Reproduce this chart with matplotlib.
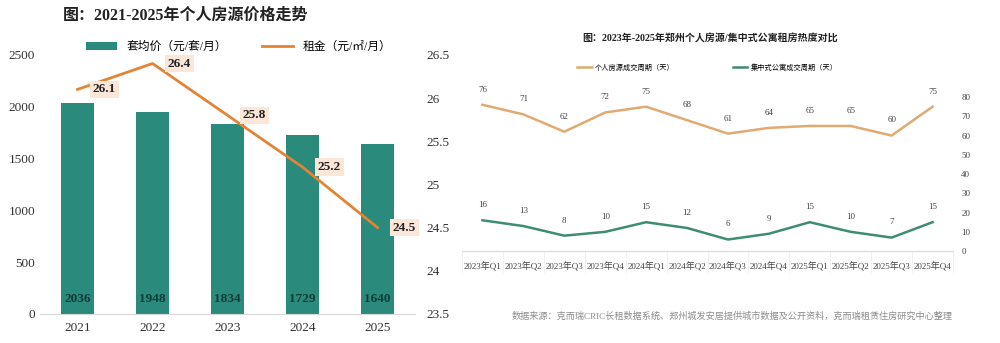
import matplotlib.pyplot as plt
import numpy as np

plt.rcParams["font.family"] = ["Liberation Serif", "Noto Sans CJK SC", "DejaVu Sans"]
plt.rcParams["axes.unicode_minus"] = False

# left chart data
years = ["2021", "2022", "2023", "2024", "2025"]
avg_price = [2036, 1948, 1834, 1729, 1640]
rent = [26.1, 26.4, 25.8, 25.2, 24.5]

# right chart data
quarters = ["2023年Q1", "2023年Q2", "2023年Q3", "2023年Q4",
            "2024年Q1", "2024年Q2", "2024年Q3", "2024年Q4",
            "2025年Q1", "2025年Q2", "2025年Q3", "2025年Q4"]
personal_days = [76, 71, 62, 72, 75, 68, 61, 64, 65, 65, 60, 75]
apartment_days = [16, 13, 8, 10, 15, 12, 6, 9, 15, 10, 7, 15]

TEAL = "#2a8a7c"
ORANGE = "#e38434"
TAN = "#e0aa72"
GREEN = "#3d8c74"

fig = plt.figure(figsize=(10, 3.43), dpi=100)

# ---- left: bars + rent line
ax = fig.add_axes([0.04, 0.085, 0.375, 0.755])
x = np.arange(len(years))
ax.bar(x, avg_price, width=0.43, color=TEAL, zorder=2, label="套均价（元/套/月）")
ax.set_xlim(-0.5, len(years) - 0.5)
ax.set_ylim(0, 2500)
ax.set_yticks(range(0, 2501, 500))
ax.set_xticks(x, years)
for s in ["top", "right", "left"]:
    ax.spines[s].set_visible(False)
ax.spines["bottom"].set_color("#d9d9d9")
ax.tick_params(length=0, labelsize=9.5, colors="#333333")
ax.tick_params(axis="x", pad=6)
for xi, v in zip(x, avg_price):
    ax.text(xi, 140, f"{v}", ha="center", va="center", fontsize=9.5,
            fontweight="bold", color="#123c36", zorder=3)

ax2 = ax.twinx()
ax2.plot(x, rent, color=ORANGE, linewidth=2, zorder=3, label="租金（元/㎡/月）")
ax2.set_ylim(23.5, 26.5)
ax2.set_yticks([23.5, 24, 24.5, 25, 25.5, 26, 26.5])
ax2.set_yticklabels(["23.5", "24", "24.5", "25", "25.5", "26", "26.5"])
for s in ["top", "right", "left", "bottom"]:
    ax2.spines[s].set_visible(False)
ax2.tick_params(length=0, labelsize=9.5, colors="#333333", pad=8)
for xi, v in zip(x, rent):
    ax2.annotate(f"{v}", (xi, v), xytext=(11, 0), textcoords="offset points",
                 ha="left", va="center", fontsize=9.5, fontweight="bold",
                 color="#222222",
                 bbox=dict(boxstyle="square,pad=0.2", fc="#fbe6d8", ec="none"))

h1, l1 = ax.get_legend_handles_labels()
h2, l2 = ax2.get_legend_handles_labels()
ax2.legend(h1 + h2, l1 + l2, loc="center", bbox_to_anchor=(0.53, 1.03),
           ncol=2, frameon=False, fontsize=8.5, handlelength=2.6,
           handleheight=0.6, columnspacing=3)

fig.text(0.063, 0.955, "图：2021-2025年个人房源价格走势", fontsize=11.5,
         fontweight="bold", ha="left", va="center", color="#222222")

# ---- right: turnover cycle lines
rx = fig.add_axes([0.462, 0.268, 0.491, 0.449])
q = np.arange(len(quarters))
rx.plot(q, personal_days, color=TAN, linewidth=1.8, label="个人房源成交周期（天）")
rx.plot(q, apartment_days, color=GREEN, linewidth=1.8, label="集中式公寓成交周期（天）")
rx.set_xlim(-0.5, len(quarters) - 0.5)
rx.set_ylim(0, 80)
rx.set_yticks(range(0, 81, 10))
rx.yaxis.tick_right()
rx.set_xticks(q, quarters)
rx.set_xticks(np.arange(-0.5, len(quarters), 1), minor=True)
for s in ["top", "right", "left"]:
    rx.spines[s].set_visible(False)
rx.spines["bottom"].set_color("#d9d9d9")
rx.tick_params(axis="both", which="major", length=0, labelsize=6.5, colors="#444444")
rx.tick_params(axis="y", pad=6)
rx.tick_params(axis="x", which="major", pad=8)
rx.tick_params(axis="x", which="minor", length=16, color="#eeeeee", direction="out")
for xi, v in zip(q, personal_days):
    rx.annotate(f"{v}", (xi, v), xytext=(0, 8), textcoords="offset points",
                ha="center", va="bottom", fontsize=6.5, color="#444444")
for xi, v in zip(q, apartment_days):
    rx.annotate(f"{v}", (xi, v), xytext=(0, 8), textcoords="offset points",
                ha="center", va="bottom", fontsize=6.5, color="#444444")
rx.legend(loc="center", bbox_to_anchor=(0.5, 1.195), ncol=2, frameon=False,
          fontsize=5.2, handlelength=2.0, handletextpad=0.5, columnspacing=8)

fig.text(0.71, 0.89, "图：2023年-2025年郑州个人房源/集中式公寓租房热度对比",
         fontsize=7.2, fontweight="bold", ha="center", va="center", color="#222222")
fig.text(0.512, 0.078,
         "数据来源：克而瑞CRIC长租数据系统、郑州城发安居提供城市数据及公开资料，克而瑞租赁住房研究中心整理",
         fontsize=6.6, ha="left", va="center", color="#8c8c8c")

fig.savefig("out.png", dpi=100)
